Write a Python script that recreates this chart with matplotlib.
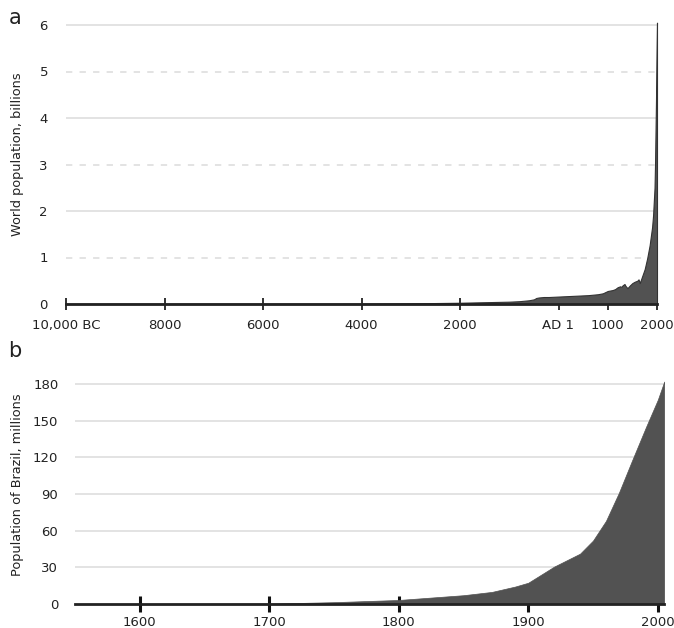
import matplotlib
matplotlib.use("Agg")
import matplotlib.pyplot as plt

# ---- data ----
world_years = [-10000, -8000, -6500, -5000, -4000, -3000, -2000, -1000, -800, -600,
               -500, -450, -400, -300, -200, 1, 200, 400, 600, 800, 900, 1000, 1050,
               1100, 1150, 1200, 1250, 1280, 1300, 1340, 1360, 1400, 1450, 1500, 1550,
               1600, 1625, 1650, 1700, 1750, 1800, 1850, 1900, 1920, 1940, 1950, 1960,
               1970, 1980, 1990, 2000]
world_pop = [0.004, 0.005, 0.005, 0.005, 0.007, 0.014, 0.027, 0.05, 0.06, 0.08,
             0.10, 0.13, 0.14, 0.15, 0.15, 0.16, 0.17, 0.18, 0.19, 0.21, 0.23, 0.28, 0.29,
             0.30, 0.32, 0.36, 0.38, 0.37, 0.40, 0.43, 0.39, 0.34, 0.40, 0.45, 0.48,
             0.50, 0.53, 0.45, 0.60, 0.75, 0.98, 1.26, 1.65, 1.90, 2.30, 2.50, 3.00,
             3.70, 4.40, 5.30, 6.05]
world_xticks = [-10000, -8000, -6000, -4000, -2000, 0, 1000, 2000]
world_xlabels = ["10,000 BC", "8000", "6000", "4000", "2000", "AD 1", "1000", "2000"]
world_yticks = [0, 1, 2, 3, 4, 5, 6]

brazil_years = [1550, 1600, 1650, 1700, 1750, 1800, 1850, 1872, 1890, 1900, 1920,
                1940, 1950, 1960, 1970, 1980, 1991, 2000, 2005]
brazil_pop = [0.05, 0.1, 0.15, 0.3, 1.5, 3.3, 7.2, 9.9, 14.3, 17.4, 30.6,
              41.2, 51.9, 68.0, 91.0, 117.0, 145.0, 167.0, 182.0]
brazil_xticks = [1600, 1700, 1800, 1900, 2000]
brazil_yticks = [0, 30, 60, 90, 120, 150, 180]

W, H = 674, 628
fig = plt.figure(figsize=(W / 100, H / 100), dpi=100)
plt.rcParams['font.family'] = ['DejaVu Sans']

FILL = "#525252"
GRID = "#e0e0e0"
TXT = "#222222"

def px_axes(x0, x1, y_top, y_bot):
    return fig.add_axes([x0 / W, 1 - y_bot / H, (x1 - x0) / W, (y_bot - y_top) / H])

# ---- panel a ----
ax1 = px_axes(66, 657, 304 - 6.15 * 46.5, 304)
ax1.set_xlim(-10000, 2000)
ax1.set_ylim(0, 6.15)
for v in [1, 2, 3, 4, 5, 6]:
    ls = (0, (3.5, 4)) if v % 2 else "-"
    ax1.axhline(v, color=GRID, lw=1.3, ls=ls, zorder=0)
ax1.fill_between(world_years, world_pop, 0, facecolor=FILL, edgecolor="#333333",
                 lw=0.8, zorder=2, clip_on=False)
ax1.axhline(0, color=TXT, lw=2, zorder=3, clip_on=False)
for s in ax1.spines.values():
    s.set_visible(False)
ax1.set_xticks(world_xticks)
ax1.set_xticklabels(world_xlabels)
ax1.set_yticks(world_yticks)
ax1.tick_params(axis="x", direction="inout", length=9, width=1.3, color=TXT,
                pad=6, labelsize=9.5, labelcolor=TXT)
ax1.tick_params(axis="y", length=0, pad=13, labelsize=9.5, labelcolor=TXT)
ax1.patch.set_alpha(0)
fig.text(18 / W, 1 - 154 / H, "World population, billions", rotation=90,
         ha="center", va="center", fontsize=9.3, color=TXT)
fig.text(15 / W, 1 - 18 / H, "a", ha="center", va="center", fontsize=15, color=TXT)

# ---- panel b ----
px_per = 220 / 180
ax2 = px_axes(75, 75 + 455 * 1.295, 604 - 185 * px_per, 604)
ax2.set_xlim(1550, 2005)
ax2.set_ylim(0, 185)
for v in brazil_yticks[1:]:
    ax2.axhline(v, color=GRID, lw=1.3, zorder=0)
ax2.fill_between(brazil_years, brazil_pop, 0, facecolor=FILL, edgecolor=FILL,
                 lw=0.5, zorder=2)
ax2.axhline(0, color=TXT, lw=2, zorder=3, clip_on=False)
for s in ax2.spines.values():
    s.set_visible(False)
ax2.set_xticks(brazil_xticks)
ax2.set_yticks(brazil_yticks)
ax2.tick_params(axis="x", direction="inout", length=11, width=2.2, color="#111111",
                pad=3, labelsize=9.5, labelcolor=TXT)
ax2.tick_params(axis="y", length=0, pad=12, labelsize=9.5, labelcolor=TXT)
ax2.patch.set_alpha(0)
fig.text(18 / W, 1 - 485 / H, "Population of Brazil, millions", rotation=90,
         ha="center", va="center", fontsize=9.3, color=TXT)
fig.text(15 / W, 1 - 351 / H, "b", ha="center", va="center", fontsize=15, color=TXT)

fig.savefig("out.png", dpi=100, facecolor="white")
